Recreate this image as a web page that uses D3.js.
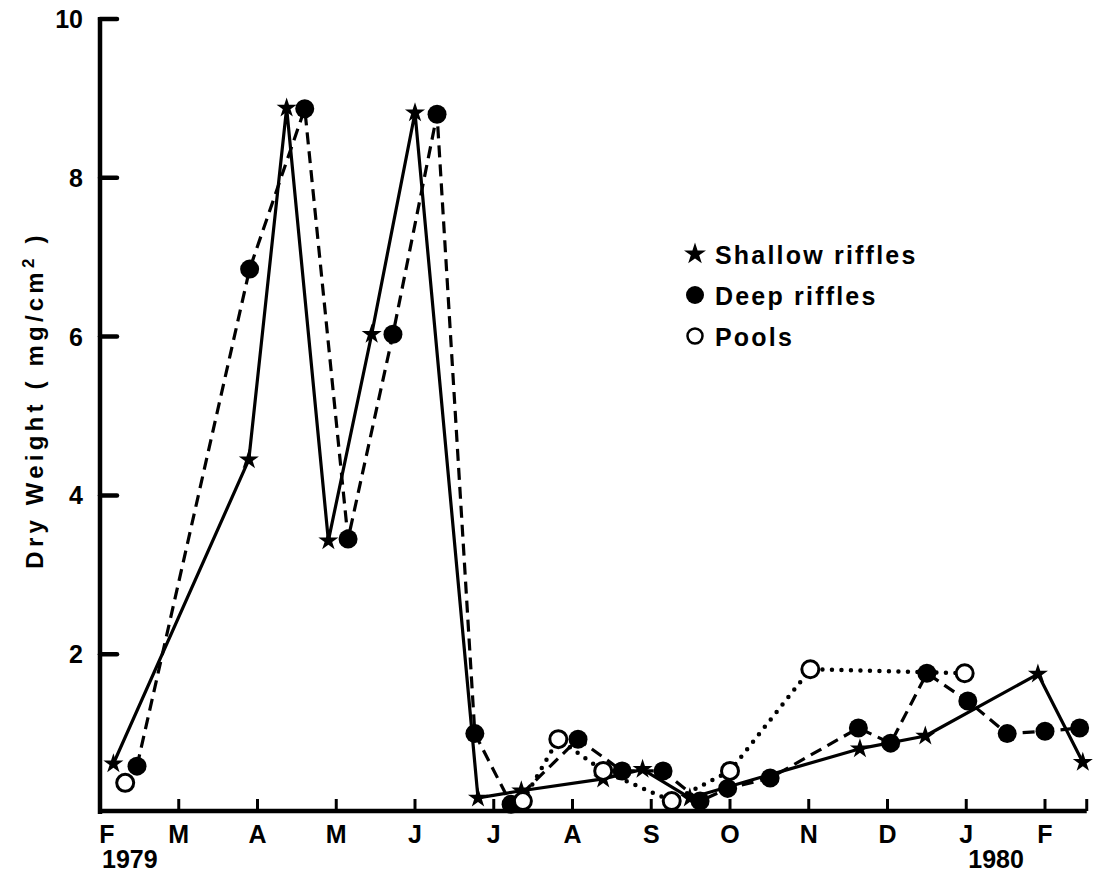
<!DOCTYPE html>
<html>
<head>
<meta charset="utf-8">
<script src="https://cdn.jsdelivr.net/npm/d3@7"></script>
<style>
  html, body { margin: 0; padding: 0; background: #fff; }
  svg { display: block; }
  text { font-family: "Liberation Sans", Arial, Helvetica, sans-serif; font-weight: bold; fill: #000; }
</style>
</head>
<body>
<svg id="chart" width="1093" height="878"></svg>
<script>
// ---- Data (months since Feb 1979; dry weight mg/cm^2) ----
const monthLabels = ["F","M","A","M","J","J","A","S","O","N","D","J","F"];
const yearLabels = [{m: 0, t: "1979"}, {m: 11, t: "1980"}];
const yTicks = [2, 4, 6, 8, 10];

const shallowMonths = [0.17, 1.89, 2.37, 2.90, 3.45, 4.00, 4.80, 5.35, 6.39, 6.89, 7.49, 9.65, 10.48, 11.91, 12.48];
const shallowValues = [0.62, 4.45, 8.88, 3.43, 6.03, 8.82, 0.19, 0.28, 0.43, 0.55, 0.19, 0.81, 0.97, 1.75, 0.64];

const deepMonths = [0.47, 1.90, 2.60, 3.15, 3.72, 4.28, 4.76, 5.22, 6.07, 6.63, 7.15, 7.62, 7.97, 8.51, 9.63, 10.04, 10.50, 11.02, 11.52, 12.00, 12.44];
const deepValues = [0.59, 6.85, 8.87, 3.45, 6.03, 8.80, 1.00, 0.11, 0.93, 0.53, 0.53, 0.15, 0.31, 0.44, 1.07, 0.88, 1.76, 1.41, 1.00, 1.03, 1.07];

// null marks a break in the dotted line (Feb point stands alone)
const poolMonths = [0.32, null, 5.37, 5.82, 6.39, 7.26, 8.00, 9.02, 10.98];
const poolValues = [0.38, null, 0.15, 0.93, 0.53, 0.15, 0.53, 1.81, 1.76];

const legendItems = ["Shallow riffles", "Deep riffles", "Pools"];
const axisEndMonth = 12.53;

// ---- Layout ----
const svg = d3.select("#chart");
const x = d3.scaleLinear().domain([0, 12]).range([100, 1045]);
const y = d3.scaleLinear().domain([0, 10]).range([813, 19]);

const zip = (ms, vs) => ms.map((m, i) => ({m, v: vs[i]}));
const shallow = zip(shallowMonths, shallowValues);
const deep = zip(deepMonths, deepValues);
const pools = zip(poolMonths, poolValues);

const line = d3.line().defined(d => d.m != null).x(d => x(d.m)).y(d => y(d.v));

// ---- Axes ----
const ax = svg.append("g");
ax.append("line").attr("x1", x(0)).attr("x2", x(0)).attr("y1", y(10) - 2).attr("y2", y(0) + 1)
  .attr("stroke", "#000").attr("stroke-width", 4.5);
ax.append("line").attr("x1", x(0) - 2).attr("x2", x(axisEndMonth)).attr("y1", y(0) - 2).attr("y2", y(0) - 2)
  .attr("stroke", "#000").attr("stroke-width", 4.5);
ax.selectAll(".yt").data(yTicks).join("line")
  .attr("x1", x(0)).attr("x2", x(0) + 17).attr("y1", d => y(d)).attr("y2", d => y(d))
  .attr("stroke", "#000").attr("stroke-width", 4.5).attr("stroke-linecap", "round");
ax.selectAll(".yl").data(yTicks).join("text")
  .attr("x", 83).attr("y", d => y(d) + 9).attr("text-anchor", "end")
  .attr("font-size", 25).text(d => d);
const xTickMonths = d3.range(1, 13).concat([axisEndMonth]);
ax.selectAll(".xt").data(xTickMonths).join("line")
  .attr("x1", d => x(d)).attr("x2", d => x(d)).attr("y1", y(0) - 2).attr("y2", y(0) - 14)
  .attr("stroke", "#000").attr("stroke-width", 3);
ax.selectAll(".xl").data(monthLabels).join("text")
  .attr("x", (d, i) => i === 0 ? x(i) + 7 : x(i)).attr("y", 843).attr("text-anchor", "middle")
  .attr("font-size", 25).text(d => d);
ax.selectAll(".yr").data(yearLabels).join("text")
  .attr("x", d => x(d.m) + 2).attr("y", 868).attr("text-anchor", "start")
  .attr("font-size", 25).text(d => d.t);

// y axis title
const yt = svg.append("text")
  .attr("transform", "translate(43,400) rotate(-90)")
  .attr("text-anchor", "middle").attr("font-size", 24).attr("letter-spacing", 4.2);
yt.append("tspan").text("Dry Weight ( mg/cm");
yt.append("tspan").attr("font-size", 17).attr("dy", -9).text("2");
yt.append("tspan").attr("dy", 9).text(" )");

// ---- Lines ----
svg.append("path").datum(shallow).attr("d", line)
  .attr("fill", "none").attr("stroke", "#000").attr("stroke-width", 3.2).attr("stroke-linejoin", "round");
svg.append("path").datum(deep).attr("d", line)
  .attr("fill", "none").attr("stroke", "#000").attr("stroke-width", 3.2).attr("stroke-dasharray", "12 7");
svg.append("path").datum(pools).attr("d", line)
  .attr("fill", "none").attr("stroke", "#000").attr("stroke-width", 4.5)
  .attr("stroke-dasharray", "0 9.5").attr("stroke-linecap", "round");

// ---- Markers ----
const star = d3.symbol().type(d3.symbolStar).size(125);
svg.selectAll(".s").data(shallow).join("path")
  .attr("transform", d => `translate(${x(d.m)},${y(d.v)})`).attr("d", star).attr("fill", "#000");
svg.selectAll(".d").data(deep).join("circle")
  .attr("cx", d => x(d.m)).attr("cy", d => y(d.v)).attr("r", 9.5).attr("fill", "#000");
svg.selectAll(".p").data(pools.filter(d => d.m != null)).join("circle")
  .attr("cx", d => x(d.m)).attr("cy", d => y(d.v)).attr("r", 8.5)
  .attr("fill", "#fff").attr("stroke", "#000").attr("stroke-width", 3);

// ---- Legend ----
const lg = svg.append("g").attr("transform", "translate(695,254)");
const lgStep = 41;
lg.append("path").attr("d", d3.symbol().type(d3.symbolStar).size(150)).attr("fill", "#000");
lg.append("circle").attr("cx", 0).attr("cy", lgStep).attr("r", 9).attr("fill", "#000");
lg.append("circle").attr("cx", 0).attr("cy", lgStep * 2).attr("r", 7.5).attr("fill", "#fff")
  .attr("stroke", "#000").attr("stroke-width", 2.5);
lg.selectAll("text").data(legendItems).join("text")
  .attr("x", 20).attr("y", (d, i) => i * lgStep + 10).attr("font-size", 25).attr("letter-spacing", 2.2)
  .text(d => d);
</script>
</body>
</html>
